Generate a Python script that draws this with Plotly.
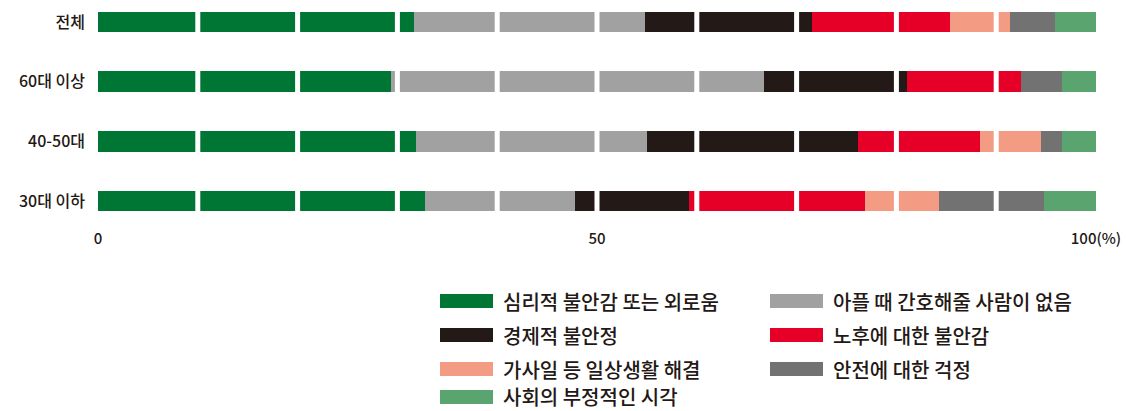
import plotly.graph_objects as go

groups = ["전체", "60대 이상", "40-50대", "30대 이하"]
series_names = [
    "심리적 불안감 또는 외로움",
    "아플 때 간호해줄 사람이 없음",
    "경제적 불안정",
    "노후에 대한 불안감",
    "가사일 등 일상생활 해결",
    "안전에 대한 걱정",
    "사회의 부정적인 시각",
]
colors = ["#007634", "#a0a1a0", "#231a18", "#e60027", "#f39c83", "#727272", "#5aa46f"]

# values per series (order of groups)
v_loneliness = [31.7, 29.4, 31.9, 32.8]
v_nocare     = [23.1, 37.3, 23.1, 15.0]
v_economic   = [16.7, 14.4, 21.2, 11.4]
v_oldage     = [13.9, 11.4, 12.2, 17.7]
v_housework  = [6.0, 0.0, 6.1, 7.4]
v_safety     = [4.5, 4.1, 2.1, 10.5]
v_prejudice  = [4.1, 3.4, 3.4, 5.2]
values = [v_loneliness, v_nocare, v_economic, v_oldage, v_housework, v_safety, v_prejudice]

tick_vals = [0, 50, 100]
tick_text = ["0", "50", "100(%)"]

FONT = "Noto Sans CJK KR"
TXT = "#231815"
W, H = 1126, 411
L, R, T, B = 98, 30, 5, 191
PW = W - L - R
PH = H - T - B

fig = go.Figure()
for name, col, vals in zip(series_names, colors, values):
    fig.add_trace(go.Bar(
        y=groups, x=vals, name=name, orientation="h",
        marker=dict(color=col, line=dict(width=0)),
        width=0.35, showlegend=False,
    ))

# white gaps every 10%
for g in range(10, 100, 10):
    fig.add_shape(type="line", xref="x", yref="paper", x0=g, x1=g, y0=0, y1=1,
                  line=dict(color="white", width=5), layer="above")

def px_to_paper(px, py):
    return (px - L) / PW, (T + PH - py) / PH

# manual legend
col_x = [440, 770]
row_y = [301, 335, 369, 397]
for i, (name, col) in enumerate(zip(series_names, colors)):
    c = i % 2
    r = i // 2
    sx0, sy0 = px_to_paper(col_x[c], row_y[r] - 7)
    sx1, sy1 = px_to_paper(col_x[c] + 53, row_y[r] + 7)
    fig.add_shape(type="rect", xref="paper", yref="paper", x0=sx0, x1=sx1, y0=sy1, y1=sy0,
                  fillcolor=col, line=dict(width=0))
    tx, ty = px_to_paper(col_x[c] + 61, row_y[r])
    fig.add_annotation(xref="paper", yref="paper", x=tx, y=ty, text=name, showarrow=False,
                       xanchor="left", yanchor="middle",
                       font=dict(family=FONT, size=20, color=TXT, weight=500))

fig.update_layout(
    barmode="stack",
    width=W, height=H,
    margin=dict(l=L, r=R, t=T, b=B, autoexpand=False),
    paper_bgcolor="white", plot_bgcolor="white",
    xaxis=dict(range=[0, 100], tickvals=tick_vals, ticktext=tick_text, showgrid=False,
               zeroline=False, showline=False, ticks="", automargin=False,
               ticklabelstandoff=8,
               tickfont=dict(family=FONT, size=15, color=TXT, weight=500)),
    yaxis=dict(range=[3.318, -0.285], showgrid=False, zeroline=False, showline=False,
               ticks="", ticklabelstandoff=12, automargin=False,
               tickfont=dict(family=FONT, size=16, color=TXT, weight=500)),
)

fig.write_html("out.html", config={"displayModeBar": False},
               post_script="document.body.style.margin='0';document.body.style.overflow='hidden';")
